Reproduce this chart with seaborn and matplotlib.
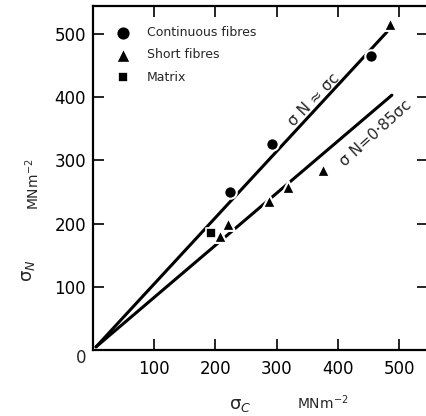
import pandas as pd
import seaborn as sns
import matplotlib.pyplot as plt

cont_x = [223, 293, 454]
cont_y = [250, 325, 465]
short_x = [208, 220, 287, 318, 375, 485]
short_y = [180, 199, 236, 258, 285, 516]
matrix_x = [193]
matrix_y = [185]

# fitted lines
upper_x = [5, 480]
upper_y = [5, 503]
lower_x = [5, 488]
lower_y = [5, 403]

ticks = [100, 200, 300, 400, 500]

sns.set_style("ticks")
plt.rcParams['font.family'] = ['DejaVu Sans']

fig = plt.figure(figsize=(4.26, 4.16), dpi=100)
ax = fig.add_axes([93 / 426, 66 / 416, 335 / 426, 344 / 416])

sns.lineplot(x=upper_x, y=upper_y, color='black', lw=2.2, ax=ax, zorder=2)
sns.lineplot(x=lower_x, y=lower_y, color='black', lw=2.2, ax=ax, zorder=2)

cont = pd.DataFrame({'x': cont_x, 'y': cont_y})
short = pd.DataFrame({'x': short_x, 'y': short_y})
matrix = pd.DataFrame({'x': matrix_x, 'y': matrix_y})

sns.scatterplot(data=cont, x='x', y='y', marker='o', s=80, color='black',
                edgecolor='white', linewidth=1.5, ax=ax, zorder=3,
                label='Continuous fibres')
sns.scatterplot(data=short, x='x', y='y', marker='^', s=85, color='black',
                edgecolor='white', linewidth=1.5, ax=ax, zorder=3,
                label='Short fibres')
sns.scatterplot(data=matrix, x='x', y='y', marker='s', s=45, color='black',
                edgecolor='white', linewidth=1.2, ax=ax, zorder=3,
                label='Matrix')

ax.set_xlim(0, 547)
ax.set_ylim(0, 544)
ax.set_xticks(ticks)
ax.set_yticks(ticks)
ax.tick_params(direction='in', top=True, right=True, length=8, width=1.2,
               labelsize=12, colors='black')
ax.tick_params(axis='x', pad=7)
ax.tick_params(axis='y', pad=5)
for sp in ax.spines.values():
    sp.set_linewidth(1.6)
    sp.set_color('black')
ax.spines['right'].set_visible(False)
ax.set_xlabel('')
ax.set_ylabel('')

ax.text(-20, -13, '0', ha='center', va='center', fontsize=12, clip_on=False)

ax.text(361, 396, 'σ N ≈ σc', rotation=46, ha='center', va='center',
        fontsize=11, rotation_mode='anchor')
ax.text(461, 343, 'σ N=0·85σc', rotation=42, ha='center', va='center',
        fontsize=11, rotation_mode='anchor')

leg = ax.legend(loc='upper left', bbox_to_anchor=(0.02, 0.975), frameon=False,
                fontsize=9, handletextpad=0.9, labelspacing=0.75,
                markerscale=1.15)

fig.text(28 / 426, 1 - 271 / 416, 'σ$_N$', rotation=90, ha='center',
         va='center', fontsize=13)
fig.text(33 / 426, 1 - 184 / 416, 'MNm$^{-2}$', rotation=90, ha='center',
         va='center', fontsize=10)
fig.text(240 / 426, 1 - 405 / 416, 'σ$_C$', ha='center', va='center',
         fontsize=13)
fig.text(323 / 426, 1 - 403 / 416, 'MNm$^{-2}$', ha='center', va='center',
         fontsize=10)

fig.savefig('out.png', dpi=100)
